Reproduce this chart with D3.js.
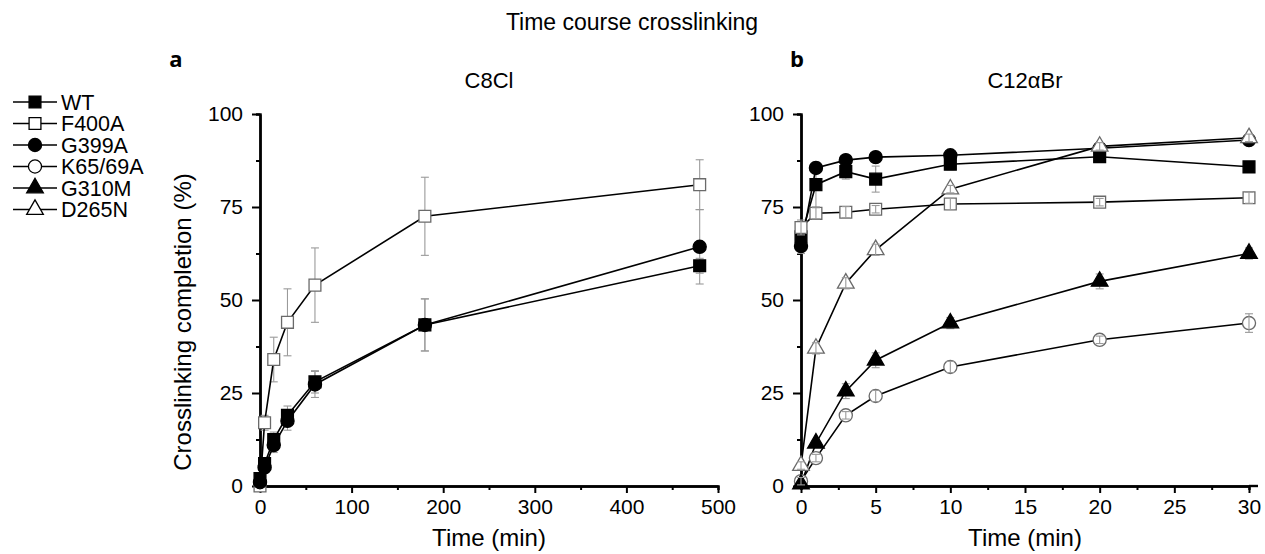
<!DOCTYPE html>
<html>
<head>
<meta charset="utf-8">
<script src="https://cdn.jsdelivr.net/npm/d3@7"></script>
<style>
  html, body { margin: 0; padding: 0; background: #fff; }
  svg text { font-family: "Liberation Sans", Arial, sans-serif; fill: #000; }
</style>
</head>
<body>
<svg id="chart" width="1265" height="554"></svg>
<script>
// ---- data ----
const seriesNames = ["WT", "F400A", "G399A", "K65/69A", "G310M", "D265N"];

// Panel a: C8Cl, time in minutes
const timesA = [0, 5, 15, 30, 60, 180, 480];
const wtA        = [2, 6, 12.5, 19, 28, 43.3, 59.2];
const wtAErr     = [1, 1.5, 2, 2.5, 3, 7, 2];
const f400aA     = [0, 17, 34, 44, 54, 72.5, 81];
const f400aAErr  = [1, 2, 6, 9, 10, 10.5, 6.7];
const g399aA     = [1, 5, 11, 17.5, 27.3, 43.3, 64.3];
const g399aAErr  = [1, 1.5, 2, 2.5, 3.5, 7, 10];

// Panel b: C12αBr, time in minutes
const timesB = [0, 1, 3, 5, 10, 20, 30];
const wtB        = [67, 81, 84.5, 82.5, 86.5, 88.5, 85.8];
const wtBErr     = [1.5, 6, 2, 3.5, 1.5, 1.5, 1];
const f400aB     = [69.5, 73.3, 73.6, 74.4, 75.8, 76.3, 77.5];
const f400aBErr  = [2, 1.5, 1.5, 1, 1.5, 1, 1.5];
const g399aB     = [64.5, 85.5, 87.6, 88.4, 88.9, 90.8, 93];
const g399aBErr  = [2, 1.5, 1, 1, 1, 1, 1];
const k65B       = [1.3, 7.5, 19, 24.2, 32, 39.3, 43.8];
const k65BErr    = [1, 1, 1, 1.5, 1.5, 1, 2.5];
const g310mB     = [0.5, 11.5, 25.5, 33.8, 43.8, 55, 62.5];
const g310mBErr  = [0.5, 1, 2, 2, 1.5, 2, 1.5];
const d265nB     = [5.5, 37, 54.5, 63.5, 79.8, 91.3, 93.6];
const d265nBErr  = [1, 1.5, 1.5, 1.5, 1, 1, 1];

const yTicks = [0, 25, 50, 75, 100];
const yMinor = [12.5, 37.5, 62.5, 87.5];
const xTicksA = [0, 100, 200, 300, 400, 500];
const xMinorA = [50, 150, 250, 350, 450];
const xTicksB = [0, 5, 10, 15, 20, 25, 30];
const xMinorB = [2.5, 7.5, 12.5, 17.5, 22.5, 27.5];

// marker styles per series
const markerStyle = {
  "WT":      { shape: d3.symbolSquare,   size: 140, filled: true },
  "F400A":   { shape: d3.symbolSquare,   size: 140, filled: false },
  "G399A":   { shape: d3.symbolCircle,   size: 135, filled: true },
  "K65/69A": { shape: d3.symbolCircle,   size: 135, filled: false },
  "G310M":   { shape: d3.symbolTriangle, size: 120, filled: true },
  "D265N":   { shape: d3.symbolTriangle, size: 120, filled: false }
};

const svg = d3.select("#chart");

// ---- shared y scale ----
const y = d3.scaleLinear().domain([0, 100]).range([486, 114]);

function drawPanel(opts) {
  const x = d3.scaleLinear().domain(opts.xDomain).range(opts.xRange);
  const g = svg.append("g");

  // axes
  const yAxis = d3.axisLeft(y).tickValues(yTicks).tickSize(8).tickSizeOuter(0).tickPadding(9);
  const yAxisMinor = d3.axisLeft(y).tickValues(yMinor).tickSize(4).tickFormat("");
  const xAxis = d3.axisBottom(x).tickValues(opts.xTicks).tickSize(7).tickSizeOuter(0).tickPadding(6);
  const xAxisMinor = d3.axisBottom(x).tickValues(opts.xMinor).tickSize(4).tickFormat("");

  const ax = [];
  ax.push(g.append("g").attr("transform", `translate(${opts.xRange[0]},0)`).call(yAxis));
  ax.push(g.append("g").attr("transform", `translate(${opts.xRange[0]},0)`).call(yAxisMinor));
  ax.push(g.append("g").attr("transform", `translate(0,486)`).call(xAxis));
  ax.push(g.append("g").attr("transform", `translate(0,486)`).call(xAxisMinor));
  ax.forEach(a => {
    a.select(".domain").attr("stroke", "#000").attr("stroke-width", 2.4);
    a.selectAll(".tick line").attr("stroke", "#000").attr("stroke-width", 2);
    a.selectAll(".tick text").style("font-size", "21px").attr("fill", "#000");
  });

  // series
  const lineGen = d3.line().x(d => x(d.t)).y(d => y(d.v));
  const errLayer = svg.append("g");
  const lineLayer = svg.append("g");
  const markLayer = svg.append("g");
  const errTop = svg.append("g");

  opts.series.forEach(s => {
    const pts = opts.times.map((t, i) => ({ t, v: s.values[i], e: s.errors[i] }));
    const st = markerStyle[s.name];
    const eg = opts.barsOnTop && !st.filled ? errTop : errLayer;

    // error bars
    pts.forEach(p => {
      const cx = x(p.t);
      const y1 = y(p.v + p.e), y2 = y(p.v - p.e);
      const bar = eg.append("g").attr("stroke", "#9a9a9a").attr("stroke-width", 1.1);
      bar.append("line").attr("x1", cx).attr("x2", cx).attr("y1", y1).attr("y2", y2);
      bar.append("line").attr("x1", cx - 4).attr("x2", cx + 4).attr("y1", y1).attr("y2", y1);
      bar.append("line").attr("x1", cx - 4).attr("x2", cx + 4).attr("y1", y2).attr("y2", y2);
    });

    lineLayer.append("path")
      .datum(pts)
      .attr("d", lineGen)
      .attr("fill", "none")
      .attr("stroke", "#000")
      .attr("stroke-width", 1.6);

    markLayer.selectAll(null)
      .data(pts)
      .join("path")
      .attr("d", d3.symbol(st.shape, st.size))
      .attr("transform", d => `translate(${x(d.t)},${y(d.v)})`)
      .attr("fill", st.filled ? "#000" : "#fff")
      .attr("stroke", st.filled ? "#000" : "#6a6a6a")
      .attr("stroke-width", 1.3);
  });

  // panel titles
  svg.append("text")
    .attr("x", (opts.xRange[0] + opts.xRange[1]) / 2)
    .attr("y", 88)
    .attr("text-anchor", "middle")
    .style("font-size", "22px")
    .text(opts.title);

  svg.append("text")
    .attr("x", opts.letterX)
    .attr("y", 67)
    .attr("text-anchor", "middle")
    .style("font-family", "'Open Sans', 'DejaVu Sans', sans-serif")
    .style("font-weight", "bold")
    .style("font-size", "22px")
    .text(opts.letter);

  svg.append("text")
    .attr("x", (opts.xRange[0] + opts.xRange[1]) / 2)
    .attr("y", 546)
    .attr("text-anchor", "middle")
    .style("font-size", "24px")
    .text("Time (min)");
}

drawPanel({
  xDomain: [0, 500], xRange: [260, 718],
  xTicks: xTicksA, xMinor: xMinorA, times: timesA,
  title: "C8Cl", letter: "a", letterX: 176, barsOnTop: false,
  series: [
    { name: "WT", values: wtA, errors: wtAErr },
    { name: "F400A", values: f400aA, errors: f400aAErr },
    { name: "G399A", values: g399aA, errors: g399aAErr }
  ]
});

drawPanel({
  xDomain: [0, 30], xRange: [801, 1249],
  xTicks: xTicksB, xMinor: xMinorB, times: timesB,
  title: "C12αBr", letter: "b", letterX: 797, barsOnTop: true,
  series: [
    { name: "WT", values: wtB, errors: wtBErr },
    { name: "F400A", values: f400aB, errors: f400aBErr },
    { name: "G399A", values: g399aB, errors: g399aBErr },
    { name: "K65/69A", values: k65B, errors: k65BErr },
    { name: "G310M", values: g310mB, errors: g310mBErr },
    { name: "D265N", values: d265nB, errors: d265nBErr }
  ]
});

// extend panel b x axis line slightly past the last tick
svg.append("line").attr("x1", 1249).attr("x2", 1258).attr("y1", 486).attr("y2", 486)
  .attr("stroke", "#000").attr("stroke-width", 2.4);

// y-axis title
svg.append("text")
  .attr("transform", "translate(191,322) rotate(-90)")
  .attr("text-anchor", "middle")
  .style("font-size", "24px")
  .text("Crosslinking completion (%)");

// main title
svg.append("text")
  .attr("x", 632)
  .attr("y", 30)
  .attr("text-anchor", "middle")
  .style("font-size", "23px")
  .text("Time course crosslinking");

// legend
const legend = svg.append("g");
seriesNames.forEach((name, i) => {
  const ly = 102 + i * 21.5;
  const st = markerStyle[name];
  legend.append("line").attr("x1", 13).attr("x2", 57).attr("y1", ly).attr("y2", ly)
    .attr("stroke", "#000").attr("stroke-width", 1.6);
  legend.append("path")
    .attr("d", d3.symbol(st.shape, st.size))
    .attr("transform", `translate(35,${ly})`)
    .attr("fill", st.filled ? "#000" : "#fff")
    .attr("stroke", "#000")
    .attr("stroke-width", 1.3);
  legend.append("text")
    .attr("x", 61).attr("y", ly).attr("dy", "0.36em")
    .style("font-size", "21.5px")
    .text(name);
});
</script>
</body>
</html>
